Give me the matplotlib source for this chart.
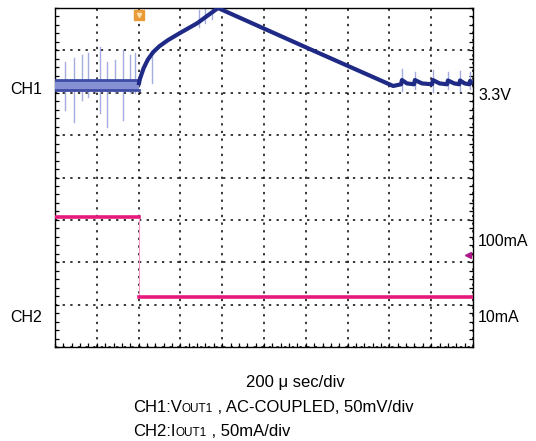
import numpy as np
import matplotlib
matplotlib.use('Agg')
import matplotlib.pyplot as plt
from matplotlib.offsetbox import TextArea, HPacker, AnnotationBbox

plt.rcParams['font.family'] = ['Liberation Sans', 'DejaVu Sans']

# CH1 (Vout, AC coupled) trace, in divisions
ch1_flat_x = [0.0, 2.0]
ch1_flat_hi = [6.30, 6.30]
ch1_flat_lo = [6.06, 6.06]
ch1_x = [2.0, 2.03, 2.12, 2.22, 2.35, 2.50, 2.70, 2.99, 3.40, 3.90, 6.03, 8.09,
         8.28, 8.30, 8.42, 8.59, 8.61, 8.78, 9.02, 9.04, 9.20,
         9.38, 9.40, 9.55, 9.67, 9.69, 9.80, 9.91, 9.93, 10.0]
ch1_y = [6.18, 6.32, 6.58, 6.78, 6.96, 7.10, 7.24, 7.41, 7.64, 8.0, 7.06, 6.16,
         6.20, 6.30, 6.22, 6.20, 6.30, 6.22, 6.20, 6.30, 6.22,
         6.20, 6.29, 6.22, 6.20, 6.29, 6.22, 6.20, 6.28, 6.22]
# faint spikes on CH1
spike_x = [0.24, 0.45, 0.65, 0.79, 1.08, 1.24, 1.44, 1.63, 1.79, 1.91, 2.32,
           3.45, 3.60, 3.75, 8.30, 8.61, 9.04, 9.40, 9.69, 9.93]
spike_top = [6.72, 6.82, 6.89, 6.93, 7.08, 6.72, 6.77, 7.00, 6.89, 6.93, 6.84,
             7.95, 7.98, 8.00, 6.55, 6.50, 6.53, 6.48, 6.52, 6.50]
spike_bot = [5.59, 5.31, 5.83, 5.90, 5.52, 5.19, 5.99, 5.35, 6.01, 5.99, 6.23,
             7.55, 7.65, 7.75, 6.05, 6.08, 6.02, 6.08, 6.05, 6.10]

# CH2 (Iout) trace
ch2_x = [0.0, 2.0, 2.0, 10.0]
ch2_y = [3.07, 3.07, 1.18, 1.18]

fig = plt.figure(figsize=(5.36, 4.41), dpi=100)
ax = fig.add_axes([55/536, 1-347/441, 418/536, 339/441])
ax.set_xlim(0, 10)
ax.set_ylim(0, 8)

navy = '#1e2a85'
light = '#9aa4dc'
pink = '#e8197d'

for sx, st, sb in zip(spike_x, spike_top, spike_bot):
    ax.plot([sx, sx], [sb, st], color=light, lw=1.0, alpha=0.9, zorder=2)

ax.fill_between(ch1_flat_x, ch1_flat_lo, ch1_flat_hi, color='#8591d2', lw=0, zorder=3)
ax.plot(ch1_flat_x, ch1_flat_hi, color='#3f4ca3', lw=2.0, zorder=4)
ax.plot(ch1_flat_x, ch1_flat_lo, color='#3f4ca3', lw=2.0, zorder=4)
ax.plot(ch1_x, ch1_y, color=navy, lw=3.0, solid_capstyle='butt',
        solid_joinstyle='round', zorder=4)

ax.plot(ch2_x[:2], ch2_y[:2], color=pink, lw=2.6, zorder=4)
ax.plot(ch2_x[1:3], ch2_y[1:3], color='#f29cc6', lw=0.8, zorder=3)
ax.plot(ch2_x[2:], ch2_y[2:], color=pink, lw=2.6, zorder=4)

# markers: trigger and CH2 level pointer
ax.plot([2.0], [7.83], marker='s', ms=7, color='#eb9a38', zorder=6, clip_on=False)
ax.plot([2.0], [7.84], marker='v', ms=3, color='#fbe2b0', zorder=7, clip_on=False)
ax.plot([9.88], [2.17], marker='<', ms=5, color='#b0168a', zorder=6)

# grid
ax.set_xticks(np.arange(0, 11, 1))
ax.set_yticks(np.arange(0, 9, 1))
ax.set_xticks(np.arange(0, 10.01, 0.2), minor=True)
ax.set_yticks(np.arange(0, 8.01, 0.2), minor=True)
ax.grid(True, which='major', color='black', lw=1.1, linestyle=(0, (1.5, 3.5)))
ax.tick_params(which='both', direction='in', length=3, width=0.9,
               left=True, right=True, bottom=True, top=False,
               labelleft=False, labelbottom=False)
for s in ax.spines.values():
    s.set_linewidth(1.0)

# channel labels
fig.text(10/536, 1-89/441, 'CH1', fontsize=11.5, va='center')
fig.text(10/536, 1-318/441, 'CH2', fontsize=11.5, va='center')
fig.text(478/536, 1-95/441, '3.3V', fontsize=11.5, va='center')
fig.text(478/536, 1-241/441, '100mA', fontsize=11.5, va='center')
fig.text(478/536, 1-318/441, '10mA', fontsize=11.5, va='center')

fig.text(295/536, 1-382/441, '200 \u03bc sec/div', fontsize=12, ha='center', va='center')

def mixed(parts, xy):
    boxes = [TextArea(t, textprops=dict(fontsize=fs, family=['Liberation Sans', 'DejaVu Sans']))
             for t, fs in parts]
    pack = HPacker(children=boxes, align='baseline', pad=0, sep=0)
    ab = AnnotationBbox(pack, xy, xycoords='figure pixels', box_alignment=(0, 0.5),
                        frameon=False, pad=0)
    fig.add_artist(ab)

mixed([('CH1:V', 12), ('OUT1', 8.5), (' , AC-COUPLED, 50mV/div', 12)], (133, 441-407))
mixed([('CH2:I', 12), ('OUT1', 8.5), (' , 50mA/div', 12)], (133, 441-431))

fig.savefig('out.png', dpi=100)
